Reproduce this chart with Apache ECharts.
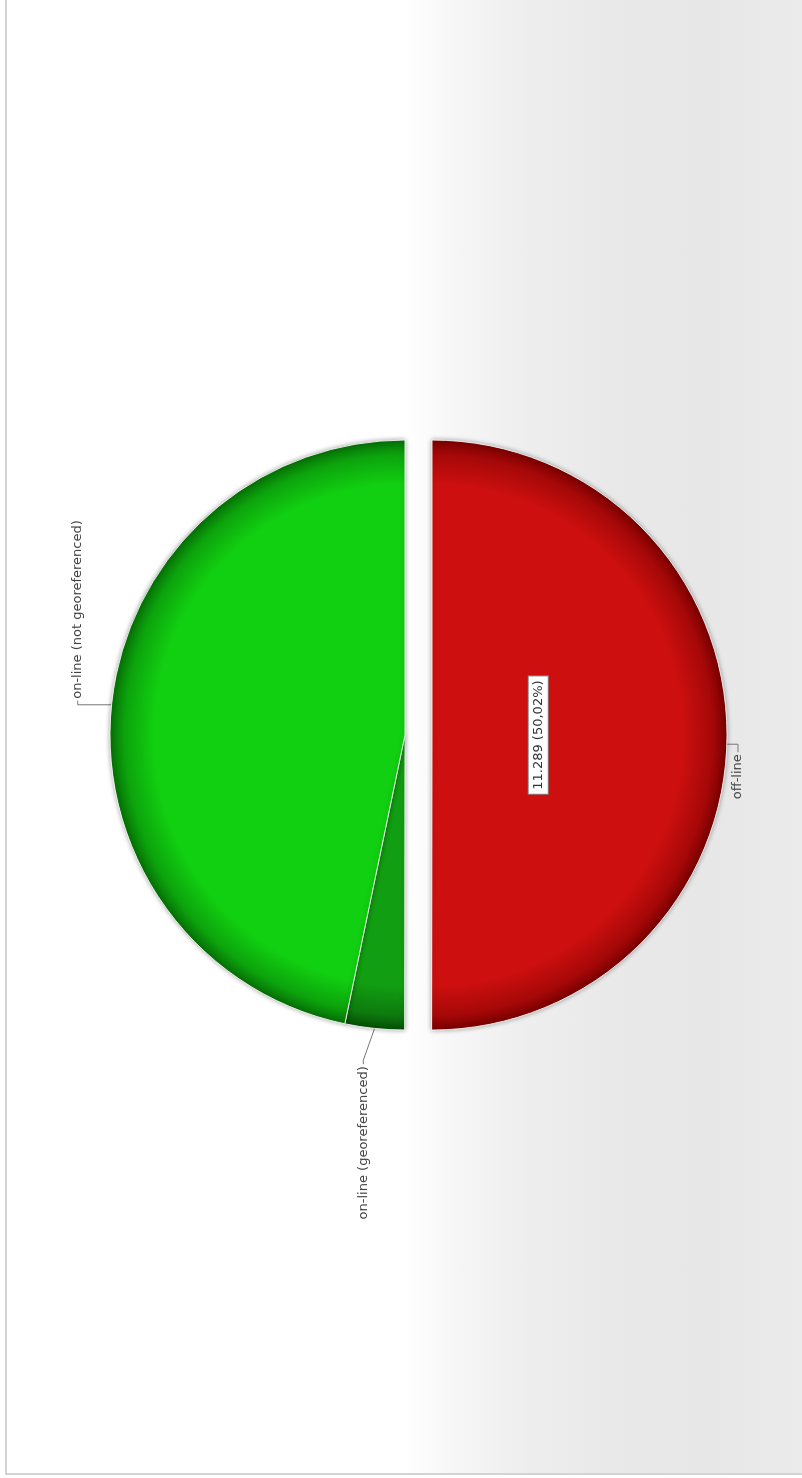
<!DOCTYPE html>
<html>
<head>
<meta charset="utf-8">
<script src="https://cdn.jsdelivr.net/npm/echarts/dist/echarts.min.js"></script>
<style>
  html, body { margin: 0; padding: 0; background: #fff; overflow: hidden; }
  /* the chart is drawn lying on its side: 1478 x 802, then turned 90deg counter-clockwise */
  #wrap {
    position: absolute; left: 0; top: 0;
    width: 1478px; height: 802px;
    transform-origin: 0 0;
    transform: translateY(1478px) rotate(-90deg);
    overflow: hidden;
    background: #fff;
  }
  #frame {
    position: absolute; left: 3px; top: 5px;
    width: 1500px; height: 820px;
    border-left: 2px solid #d3d3d3;
    border-top: 2px solid #d3d3d3;
    background: linear-gradient(to bottom, #ffffff 0px, #ffffff 398px, #f6f6f6 450px, #eeeeee 520px, #e9e9e9 600px, #e7e7e7 700px, #ebebeb 797px);
  }
  #chart { position: absolute; left: 0; top: 0; width: 1478px; height: 802px; }
</style>
</head>
<body>
<div id="wrap">
  <div id="frame"></div>
  <div id="chart"></div>
</div>
<script>
// data
var categories = ['off-line', 'on-line (georeferenced)', 'on-line (not georeferenced)'];
var values = [11289, 733, 10547];

var cx = 743, cy = 405, R = 295;

// 11289 -> "11.289", 50.02 -> "50,02"
function itNum(n) {
  return String(n).replace(/\B(?=(\d{3})+(?!\d))/g, '.');
}

function shade(inner, mid, edge) {
  return {
    type: 'radial', x: cx, y: cy, r: R, global: true,
    colorStops: [
      { offset: 0, color: inner },
      { offset: 0.85, color: inner },
      { offset: 0.95, color: mid },
      { offset: 1, color: edge }
    ]
  };
}

var fills = [
  shade('#cd0f0f', '#a60808', '#7a0000'),
  shade('#129e12', '#0d7a0d', '#064f06'),
  shade('#11d011', '#0ca30c', '#067006')
];
var lines = [[11, 8], [32, 4], [34, 4]];

var labelFont = { fontFamily: 'DejaVu Sans', fontSize: 13, color: '#444' };

var mainData = categories.map(function (name, i) {
  return {
    name: name,
    value: values[i],
    selected: i === 0,
    itemStyle: { color: fills[i] },
    labelLine: { length: lines[i][0], length2: lines[i][1] }
  };
});

// second (invisible) ring only to carry the value label inside the red slice
var innerData = categories.map(function (name, i) {
  return {
    name: name,
    value: values[i],
    selected: i === 0,
    label: { show: i === 0 }
  };
});

// small nudges so the leader lines sit like the original ones
function nudge(p) {
  var pts = p.labelLinePoints;
  if (!pts) return;
  if (p.dataIndex === 2) {
    // first leg straight up
    var s = pts[0][0] - pts[1][0];
    return {
      dx: s,
      labelLinePoints: [pts[0], [pts[0][0], pts[1][1]], [pts[2][0] + s, pts[2][1]]]
    };
  }
  if (p.dataIndex === 1) {
    return {
      dy: -8,
      labelLinePoints: [pts[0], [pts[1][0], pts[1][1] - 8], [pts[2][0], pts[2][1] - 8]]
    };
  }
  return {
    dx: -9,
    labelLinePoints: pts.map(function (q) { return [q[0] - 9, q[1]]; })
  };
}

var chart = echarts.init(document.getElementById('chart'));
chart.setOption({
  animation: false,
  series: [
    {
      type: 'pie',
      center: [cx, cy],
      radius: R,
      startAngle: 0,
      clockwise: true,
      selectedMode: 'multiple',
      selectedOffset: 27,
      avoidLabelOverlap: false,
      itemStyle: {
        borderColor: 'rgba(255,255,255,0.85)',
        borderWidth: 1,
        shadowBlur: 5,
        shadowColor: 'rgba(0,0,0,0.35)'
      },
      label: Object.assign({ show: true, position: 'outside', distanceToLabelLine: 2 }, labelFont),
      labelLine: { show: true, smooth: false, lineStyle: { color: '#777', width: 1 } },
      labelLayout: nudge,
      emphasis: { disabled: true },
      data: mainData
    },
    {
      type: 'pie',
      center: [cx, cy],
      radius: R * 0.7,
      startAngle: 0,
      clockwise: true,
      silent: true,
      selectedMode: 'multiple',
      selectedOffset: 27,
      itemStyle: { color: 'rgba(0,0,0,0)', borderWidth: 0 },
      label: Object.assign({
        position: 'inside',
        backgroundColor: '#fff',
        borderColor: '#888',
        borderWidth: 1,
        padding: [3, 4],
        formatter: function (p) {
          return itNum(p.value) + ' (' + p.percent.toFixed(2).replace('.', ',') + '%)';
        }
      }, labelFont, { color: '#333' }),
      labelLine: { show: false },
      emphasis: { disabled: true },
      data: innerData
    }
  ]
});
</script>
</body>
</html>
